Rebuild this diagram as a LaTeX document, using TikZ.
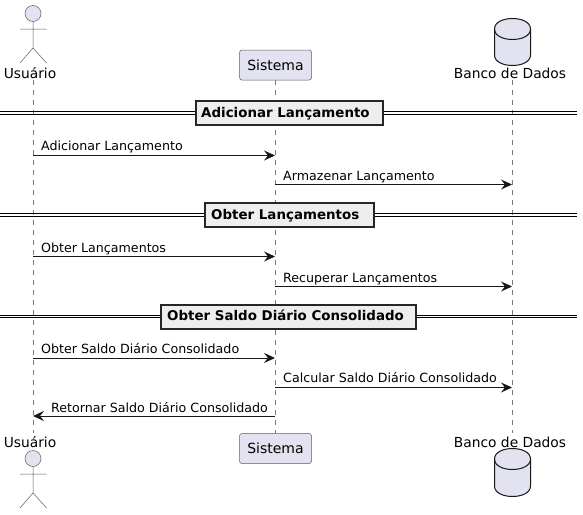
\documentclass[tikz,border=0pt]{standalone}
\usepackage{fontspec}
\setmainfont{DejaVu Sans}
\usetikzlibrary{arrows.meta}
\definecolor{partfill}{HTML}{E2E2F0}
\definecolor{partline}{HTML}{181818}
\definecolor{divfill}{HTML}{EEEEEE}
\definecolor{lifeline}{HTML}{7A7A7A}
\tikzset{
  x=1pt,y=-1pt,
  partbox/.style={draw=partline!70,fill=partfill,line width=0.5pt,rounded corners=2.5pt,minimum width=72pt,minimum height=30pt,inner sep=0pt,font=\fontsize{14}{16}\selectfont},
  partlabel/.style={inner sep=0pt,font=\fontsize{13.8}{16}\selectfont,text=black,anchor=base},
  msgtext/.style={inner sep=0pt,anchor=base west,font=\fontsize{12.65}{15}\selectfont,text=black},
  msg/.style={draw=partline,line width=0.9pt,-{Stealth[length=11pt,width=10pt,inset=4pt]}},
  life/.style={draw=lifeline,line width=0.5pt,dash pattern=on 5pt off 5pt},
  divbox/.style={draw=black!85,fill=divfill,line width=2pt,inner sep=0pt,minimum height=24pt},
  divtext/.style={inner sep=0pt,anchor=base west,font=\bfseries\fontsize{13.4}{15}\selectfont,text=black},
  divline/.style={draw=black,line width=1pt},
  actorline/.style={draw=partline!70,line width=0.5pt},
  dbline/.style={draw=partline,line width=1pt,fill=partfill},
}
\begin{document}
\begin{tikzpicture}
\useasboundingbox (0,0) rectangle (583,514);
\fill[white] (0,0) rectangle (583,514);
% free ends of lines
\coordinate (ul1) at (33,80); \coordinate (ul2) at (33,433);
\coordinate (sl1) at (275.5,80); \coordinate (sl2) at (275.5,433);
\coordinate (dl1) at (512.5,80); \coordinate (dl2) at (512.5,433);
\draw[life] (ul1) -- (ul2);
\draw[life] (sl1) -- (sl2);
\draw[life] (dl1) -- (dl2);
% Sections
\foreach \yy/\nm in {113/a,215/b,316.5/c}{
  \coordinate (L\nm) at (0,\yy); \coordinate (R\nm) at (577,\yy);
  \draw[divline] ([yshift=1.3pt]L\nm) -- ([yshift=1.3pt]R\nm);
  \draw[divline] ([yshift=-1.3pt]L\nm) -- ([yshift=-1.3pt]R\nm);
}
\node[divbox,minimum width=187pt] (d1) at (289,113) {};
\node[divbox,minimum width=169pt] (d2) at (289,214.5) {};
\node[divbox,minimum width=255pt] (d3) at (288,316.5) {};
\node[divtext] (t1) at (201,117) {Adicionar Lançamento};
\node[divtext] (t2) at (211,219) {Obter Lançamentos};
\node[divtext] (t3) at (167,320.5) {Obter Saldo Diário Consolidado};
% Top participants
\node[partbox] (st) at (275.5,65) {Sistema};
\node[partbox] (sb) at (275.5,448.5) {Sistema};
\node[partlabel] (ut) at (30,78) {Usuário};
\node[partlabel] (ub) at (30,447) {Usuário};
\node[partlabel] (dt) at (510,78) {Banco de Dados};
\node[partlabel] (db) at (510,447) {Banco de Dados};
% Actors
\foreach \yo/\nm in {0/t,445/b}{
  \begin{scope}[yshift=-\yo pt]
    \draw[actorline,fill=partfill] (33,13.5) circle (8);
    \draw[actorline] (33,21.5) -- (33,48) (20,29) -- (46.5,29) (20,63) -- (33,48) -- (46.5,63);
  \end{scope}
}
% Databases
\draw[dbline] (494.5,29) .. controls (494.5,15) and (530.5,15) .. (530.5,29) -- (530.5,55) .. controls (530.5,69) and (494.5,69) .. (494.5,55) -- cycle;
\draw[dbline,fill=none] (494.5,29) .. controls (494.5,43) and (530.5,43) .. (530.5,29);
\draw[dbline] (494.5,459) .. controls (494.5,445) and (530.5,445) .. (530.5,459) -- (530.5,486) .. controls (530.5,500) and (494.5,500) .. (494.5,486) -- cycle;
\draw[dbline,fill=none] (494.5,459) .. controls (494.5,473) and (530.5,473) .. (530.5,459);
% Anchors of messages on lifelines
\foreach \nm/\yy in {a/155.5,b/184.5,c/256.5,d/286.5,e/358,f/387.5,g/416}{
  \coordinate (u\nm) at (33,\yy);
  \coordinate (s\nm) at (275,\yy);
  \coordinate (k\nm) at (512,\yy);
}
\draw[msg] (ua) -- (sa);
\draw[msg] (sb) -- (kb);
\draw[msg] (uc) -- (sc);
\draw[msg] (sd) -- (kd);
\draw[msg] (ue) -- (se);
\draw[msg] (sf) -- (kf);
\draw[msg] (sg) -- (ug);
\node[msgtext] (m1) at (41,150) {Adicionar Lançamento};
\node[msgtext] (m2) at (283,180) {Armazenar Lançamento};
\node[msgtext] (m3) at (41,252) {Obter Lançamentos};
\node[msgtext] (m4) at (283,282) {Recuperar Lançamentos};
\node[msgtext] (m5) at (41,353) {Obter Saldo Diário Consolidado};
\node[msgtext] (m6) at (283,382) {Calcular Saldo Diário Consolidado};
\node[msgtext] (m7) at (51,412) {Retornar Saldo Diário Consolidado};
\end{tikzpicture}
\end{document}
